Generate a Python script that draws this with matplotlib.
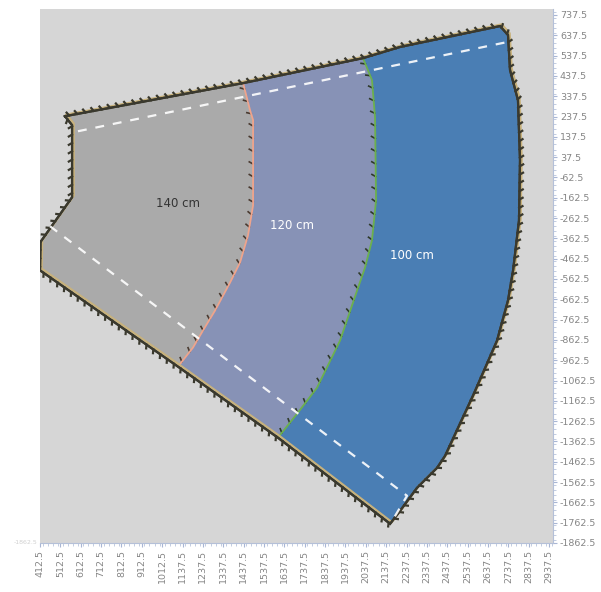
import numpy as np
import matplotlib
matplotlib.use("Agg")
import matplotlib.pyplot as plt
import matplotlib.patheffects as pe
from matplotlib.ticker import MultipleLocator, FixedLocator

# ---- zone outline (data units) ----
top_edge_x = [535, 1410, 1999, 2181, 2672]
top_edge_y = [239, 402, 525, 580, 683]
right_edge_x = [2711, 2721, 2760, 2770, 2765, 2736, 2711, 2657, 2608, 2539, 2475, 2402, 2363, 2264, 2181, 2132]
right_edge_y = [639, 466, 318, 22, -274, -520, -668, -866, -979, -1137, -1275, -1433, -1492, -1591, -1704, -1768]
bottom_edge_x = [1837, 1581, 1090, 412.5]
bottom_edge_y = [-1541, -1344, -994, -520]
left_edge_x = [415, 570, 570]
left_edge_y = [-380, -160, 195]

# boundary between the 140 cm and 120 cm zones (top -> bottom)
bound_a_x = [1410, 1444, 1459, 1459, 1434, 1395, 1346, 1272, 1213, 1164, 1090]
bound_a_y = [402, 269, 220, -200, -348, -481, -580, -718, -816, -900, -994]
# boundary between the 120 cm and 100 cm zones (top -> bottom)
bound_b_x = [1999, 2043, 2058, 2063, 2043, 2009, 1975, 1886, 1773, 1675, 1581]
bound_b_y = [525, 417, 234, -175, -372, -506, -604, -866, -1098, -1226, -1344]

# dashed guide lines
guide_top_x = [599, 2706]
guide_top_y = [165, 604]
guide_low_x = [462, 2215, 2142]
guide_low_y = [-303, -1630, -1754]

zone_labels = ["140 cm", "120 cm", "100 cm"]
label_x = [1090, 1650, 2240]
label_y = [-190, -298, -446]
label_colors = ["#333333", "white", "white"]
zone_colors = ["#aaaaaa", "#8792b6", "#4a7eb4"]

x_tick_labels = ["412.5", "512.5", "612.5", "712.5", "812.5", "912.5", "1012.5",
                 "1137.5", "1237.5", "1337.5", "1437.5", "1537.5", "1637.5",
                 "1737.5", "1837.5", "1937.5", "2037.5", "2137.5", "2237.5",
                 "2337.5", "2437.5", "2537.5", "2637.5", "2737.5", "2837.5", "2937.5"]
y_ticks = np.arange(-1862.5, 737.5 + 1, 100)


def pts(x, y):
    return np.column_stack([x, y])


top = pts(top_edge_x, top_edge_y)
right = pts(right_edge_x, right_edge_y)
bottom = pts(bottom_edge_x, bottom_edge_y)
left = pts(left_edge_x, left_edge_y)
ba = pts(bound_a_x, bound_a_y)
bb = pts(bound_b_x, bound_b_y)

poly_140 = np.vstack([top[0:2], ba[1:], bottom[3:], left])
poly_120 = np.vstack([top[1:3], bb[1:], bottom[2:3], ba[::-1][1:]])
poly_100 = np.vstack([top[2:], right, bottom[0:2], bb[::-1][1:]])
outline = np.vstack([top, right, bottom, left, top[0:1]])

fig = plt.figure(figsize=(6.01, 5.92), dpi=100)
ax = fig.add_axes([40 / 601, 1 - 543 / 592, 513 / 601, 534 / 592])
ax.set_facecolor("#d6d6d6")

for poly, col in zip([poly_140, poly_120, poly_100], zone_colors):
    ax.fill(poly[:, 0], poly[:, 1], color=col, lw=0, zorder=2)

# zone boundaries
ax.plot(ba[:, 0], ba[:, 1], color="#eea48c", lw=1.3, zorder=3,
        path_effects=[pe.withTickedStroke(angle=-120, spacing=9, length=0.35,
                                          linewidth=1.2, foreground="#4a3a30")])
ax.plot(bb[:, 0], bb[:, 1], color="#6cb04e", lw=1.3, zorder=3,
        path_effects=[pe.withTickedStroke(angle=-120, spacing=9, length=0.35,
                                          linewidth=1.2, foreground="#2e3a2a")])

# jagged outer outline
ax.plot(outline[:, 0], outline[:, 1], color="#3a392e", lw=1.6, zorder=4,
        solid_joinstyle="miter",
        path_effects=[pe.SimpleLineShadow(offset=(1.2, 1.2), shadow_color="#c8b27c", alpha=1.0),
                      pe.Normal(),
                      pe.withTickedStroke(angle=120, spacing=6, length=0.45,
                                          linewidth=1.6, foreground="#3a392e")])

# dashed guides
for gx, gy in [(guide_top_x, guide_top_y), (guide_low_x, guide_low_y)]:
    ax.plot(gx, gy, color="white", lw=1.6, ls=(0, (4, 4)), zorder=5, alpha=0.9)

for t, lx, ly, c in zip(zone_labels, label_x, label_y, label_colors):
    ax.text(lx, ly, t, color=c, fontsize=8.5, ha="center", va="center", zorder=6)

ax.set_xlim(412.5, 2932)
ax.set_ylim(-1862.5, 767)

for s in ["top", "left"]:
    ax.spines[s].set_visible(False)
for s in ["right", "bottom"]:
    ax.spines[s].set_color("#b4c0d8")
    ax.spines[s].set_linewidth(0.8)

# evenly spaced category-style ticks along x
x_tick_pos = 412.5 + 100 * np.arange(len(x_tick_labels))
ax.yaxis.tick_right()
ax.xaxis.set_major_locator(FixedLocator(x_tick_pos))
ax.yaxis.set_major_locator(FixedLocator(y_ticks))
ax.set_xticklabels(x_tick_labels, rotation=90)
ax.set_yticklabels([f"{v:.1f}" for v in y_ticks])
ax.xaxis.set_minor_locator(MultipleLocator(25))
ax.yaxis.set_minor_locator(MultipleLocator(25))
ax.tick_params(which="major", length=3, width=0.8, color="#a8b6d4",
               labelsize=6.8, labelcolor="#858585", pad=2)
ax.tick_params(which="minor", length=2, width=0.6, color="#b8c4dc")

fig.text(14 / 601, 1 - 543 / 592, "-1862.5", fontsize=4.5, color="#d0d0d0",
         ha="left", va="center")

fig.savefig("out.png", dpi=100)
